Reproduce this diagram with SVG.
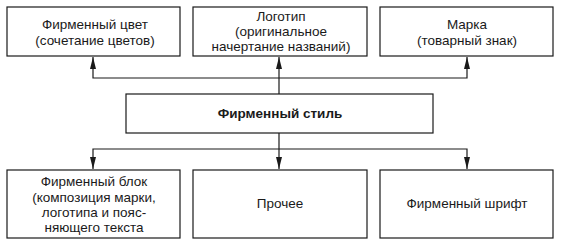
<svg xmlns="http://www.w3.org/2000/svg" width="561" height="243" viewBox="0 0 561 243">
<style>
.box{fill:#fff;stroke:#1a1a1a;stroke-width:1.2}
.t{font-family:"Liberation Sans",Arial,sans-serif;font-size:13.5px;fill:#1a1a1a;text-anchor:middle}
.b{font-weight:bold}
.c{fill:none;stroke:#1a1a1a;stroke-width:1.2}
</style>
<defs>
<marker id="ah" markerWidth="12" markerHeight="6" refX="12" refY="3" orient="auto" markerUnits="userSpaceOnUse">
<path d="M0,0 L12,3 L0,6 Z" fill="#1a1a1a"/>
</marker>
</defs>
<rect width="561" height="243" fill="#fff"/>
<g id="connectors">
<path class="c" d="M279,94 V57" marker-end="url(#ah)"/>
<path class="c" d="M279,78 H93 V57" marker-end="url(#ah)"/>
<path class="c" d="M279,78 H467 V57" marker-end="url(#ah)"/>
<path class="c" d="M279,133 V169" marker-end="url(#ah)"/>
<path class="c" d="M279,149 H93 V169" marker-end="url(#ah)"/>
<path class="c" d="M279,149 H467 V169" marker-end="url(#ah)"/>
</g>
<g id="color">
<rect class="box" x="7" y="7" width="173" height="49"/>
<text class="t" x="95" y="29">Фирменный цвет</text>
<text class="t" x="95" y="45">(сочетание цветов)</text>
</g>
<g id="logo">
<rect class="box" x="193" y="7" width="174" height="49"/>
<text class="t" x="281" y="21">Логотип</text>
<text class="t" x="281" y="36">(оригинальное</text>
<text class="t" x="281" y="51">начертание названий)</text>
</g>
<g id="mark">
<rect class="box" x="380" y="7" width="173" height="49"/>
<text class="t" x="467" y="29">Марка</text>
<text class="t" x="467" y="45">(товарный знак)</text>
</g>
<g id="style">
<rect class="box" x="126" y="94" width="307" height="39"/>
<text class="t b" x="280" y="118">Фирменный стиль</text>
</g>
<g id="block">
<rect class="box" x="7" y="170" width="173" height="68"/>
<text class="t" x="94" y="186">Фирменный блок</text>
<text class="t" x="94" y="202">(композиция марки,</text>
<text class="t" x="94" y="217">логотипа и пояс-</text>
<text class="t" x="94" y="232">няющего текста</text>
</g>
<g id="other">
<rect class="box" x="193" y="170" width="174" height="68"/>
<text class="t" x="280" y="208">Прочее</text>
</g>
<g id="font">
<rect class="box" x="380" y="170" width="173" height="68"/>
<text class="t" x="467" y="208">Фирменный шрифт</text>
</g>
</svg>
